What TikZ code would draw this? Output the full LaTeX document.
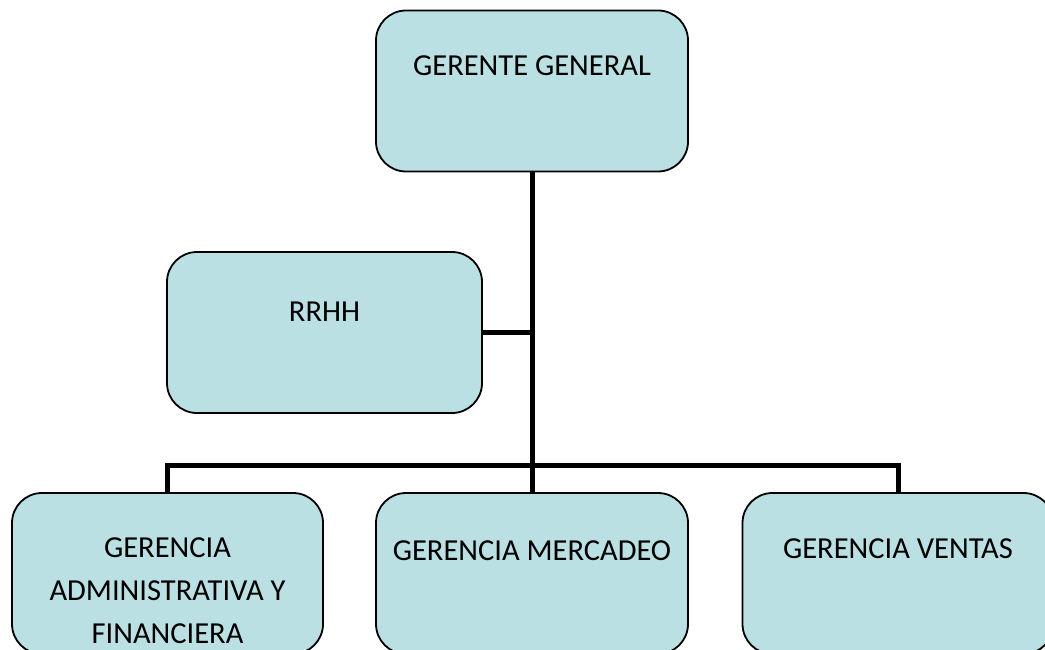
\documentclass[tikz,border=0pt]{standalone}
\usepackage{fontspec}
\setmainfont{Carlito}
\definecolor{boxfill}{RGB}{186,224,228}
\begin{document}
\begin{tikzpicture}[x=1pt,y=-1pt,
  orgbox/.style={draw=black,line width=1.8pt,fill=boxfill,rounded corners=30pt,
    minimum width=312pt,minimum height=161pt,inner sep=0pt},
  lbl/.style={anchor=north,inner sep=0pt,align=center,
    font=\fontsize{30.5}{44.5}\selectfont},
  conn/.style={draw=black,line width=5pt}]
\clip (0,0) rectangle (1045,650);
\fill[white] (0,0) rectangle (1045,650);
% boxes
\node[orgbox] (gg) at (532,91) {};
\node[orgbox,minimum width=315pt] (rrhh) at (324.5,332.5) {};
\node[orgbox,minimum width=311pt] (adm) at (167.5,573.5) {};
\node[orgbox] (mer) at (532,573.5) {};
\node[orgbox,minimum width=311pt] (ven) at (898,573.5) {};
% labels
\node[lbl] (tgg) at (532,55.5) {GERENTE GENERAL};
\node[lbl] (trr) at (324.5,302) {RRHH};
\node[lbl,font=\fontsize{30.5}{43}\selectfont] (tadm) at (167.5,538) {GERENCIA\\ADMINISTRATIVA Y\\FINANCIERA\vphantom{I}\smash{}};
\node[lbl] (tmer) at (532,540.5) {GERENCIA MERCADEO};
\node[lbl] (tven) at (898,539) {GERENCIA VENTAS};
% connectors
\coordinate (hub) at (532,465);
\draw[conn] (gg.south) -- (hub);
\draw[conn] (rrhh.east) -- (rrhh.east -| gg.south);
\draw[conn] (adm.north) |- (hub) -| (ven.north);
\draw[conn] (hub) -- (mer.north);
\end{tikzpicture}
\end{document}
